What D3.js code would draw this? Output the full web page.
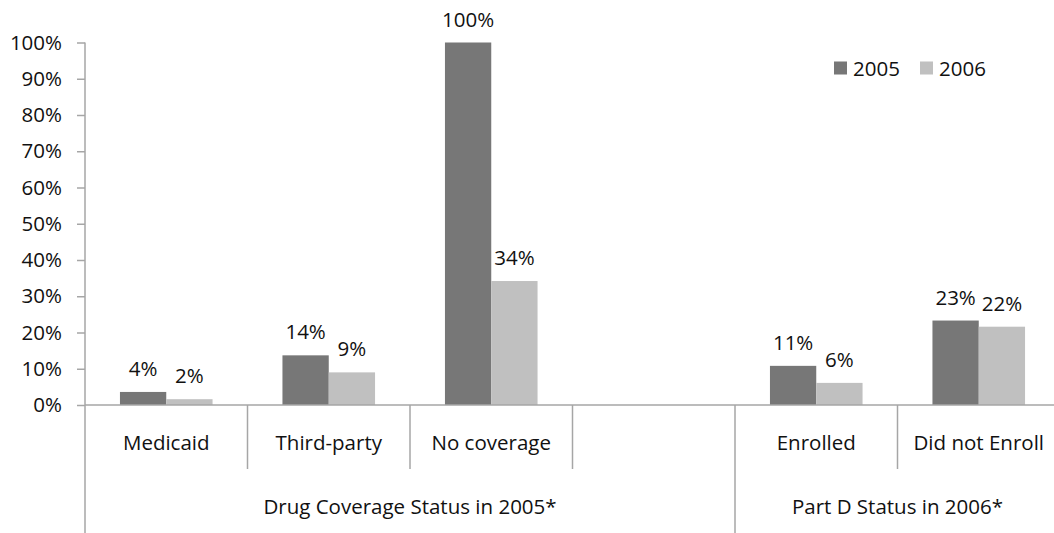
<!DOCTYPE html>
<html>
<head>
<meta charset="utf-8">
<script src="https://cdn.jsdelivr.net/npm/d3@7"></script>
<style>
  html, body { margin: 0; padding: 0; background: #ffffff; }
  svg { display: block; }
  text { font-family: "Open Sans", "Liberation Sans", sans-serif; fill: #111111; }
</style>
</head>
<body>
<svg id="chart" width="1054" height="533"></svg>
<script>
// ---- data ----
const categories = ["Medicaid", "Third-party", "No coverage", "", "Enrolled", "Did not Enroll"];
const categoryKeys = ["medicaid", "thirdparty", "nocoverage", "gap", "enrolled", "didnotenroll"];
const seriesNames = ["2005", "2006"];
const values2005 = [3.6, 13.7, 100, null, 10.8, 23.3];
const values2006 = [1.6, 9.0, 34.2, null, 6.1, 21.6];
const groupLabels = ["Drug Coverage Status in 2005*", "Part D Status in 2006*"];
const groupSpans = [[0, 3], [4, 5]];
const yTicks = [0, 10, 20, 30, 40, 50, 60, 70, 80, 90, 100];

// ---- layout ----
const svg = d3.select("#chart");
const mLeft = 85, mRight = 1060, mTop = 42.5, mBottom = 405;
const colors = { "2005": "#777777", "2006": "#c0c0c0" };
const axisColor = "#a6a6a6";
const fs = "20.5px";

const x = d3.scaleBand().domain(categoryKeys).range([mLeft, mRight]).paddingInner(0).paddingOuter(0);
const inner = d3.scaleBand().domain(seriesNames).range([0, x.bandwidth()]).paddingInner(0).paddingOuter(0.755);
const y = d3.scaleLinear().domain([0, 100]).range([mBottom, mTop]);

// y axis
const yAxis = d3.axisLeft(y).tickValues(yTicks).tickFormat(d => d + "%").tickSizeOuter(0).tickSizeInner(8).tickPadding(15);
const gy = svg.append("g").attr("transform", `translate(${mLeft},0)`).call(yAxis);
gy.selectAll("line").attr("stroke", axisColor).attr("stroke-width", 1.5);
gy.select(".domain").remove();
gy.selectAll("text").style("font-size", fs).style("font-family", "'Open Sans', sans-serif").attr("fill", "#111111");
svg.append("line").attr("x1", mLeft).attr("x2", mLeft).attr("y1", mTop).attr("y2", 533)
  .attr("stroke", axisColor).attr("stroke-width", 1.5);

// bars
const rows = [];
categoryKeys.forEach((k, i) => {
  if (values2005[i] != null) rows.push({ key: k, series: "2005", v: values2005[i] });
  if (values2006[i] != null) rows.push({ key: k, series: "2006", v: values2006[i] });
});
svg.append("g").selectAll("rect").data(rows).join("rect")
  .attr("x", d => x(d.key) + inner(d.series))
  .attr("width", inner.bandwidth())
  .attr("y", d => y(d.v))
  .attr("height", d => y(0) - y(d.v))
  .attr("fill", d => colors[d.series]);

// value labels
svg.append("g").selectAll("text").data(rows).join("text")
  .attr("x", d => x(d.key) + inner(d.series) + inner.bandwidth() / 2)
  .attr("y", d => y(d.v) - 16)
  .attr("text-anchor", "middle")
  .style("font-size", fs)
  .text(d => Math.round(d.v) + "%");

// x baseline
svg.append("line").attr("x1", mLeft).attr("x2", 1054).attr("y1", y(0)).attr("y2", y(0))
  .attr("stroke", axisColor).attr("stroke-width", 1.5);

// category separators
const groupStarts = groupSpans.map(s => s[0]);
categoryKeys.forEach((k, i) => {
  if (i === 0) return;
  const full = groupStarts.includes(i);
  svg.append("line").attr("x1", x(k)).attr("x2", x(k))
    .attr("y1", y(0)).attr("y2", full ? 533 : 469)
    .attr("stroke", axisColor).attr("stroke-width", 1.5);
});

// category labels
svg.append("g").selectAll("text").data(categoryKeys).join("text")
  .attr("x", d => x(d) + x.bandwidth() / 2)
  .attr("y", 449.5)
  .attr("text-anchor", "middle")
  .style("font-size", fs)
  .text((d, i) => categories[i]);

// group labels
groupLabels.forEach((g, i) => {
  const s = groupSpans[i];
  const x0 = x(categoryKeys[s[0]]), x1 = x(categoryKeys[s[1]]) + x.bandwidth();
  svg.append("text").attr("x", (x0 + x1) / 2).attr("y", 514)
    .attr("text-anchor", "middle").style("font-size", fs).text(g);
});

// legend
const legendX = [834, 920];
seriesNames.forEach((s, i) => {
  svg.append("rect").attr("x", legendX[i]).attr("y", 61.5).attr("width", 13).attr("height", 13).attr("fill", colors[s]);
  svg.append("text").attr("x", legendX[i] + 19).attr("y", 75.5).style("font-size", fs).text(s);
});
</script>
</body>
</html>
